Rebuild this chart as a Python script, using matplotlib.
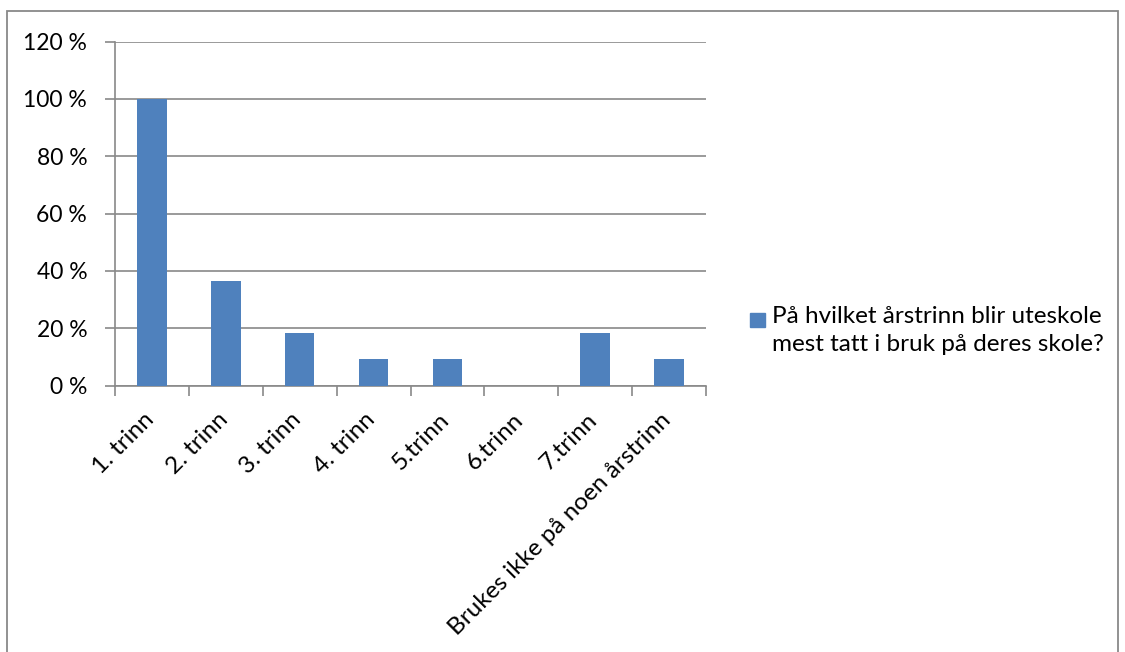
import matplotlib.pyplot as plt
from matplotlib.patches import Rectangle
import matplotlib.transforms as mtransforms
import numpy as np

plt.rcParams['font.family'] = ['Lato', 'DejaVu Sans']

categories = ['1. trinn', '2. trinn', '3. trinn', '4. trinn', '5.trinn', '6.trinn',
              '7.trinn', 'Brukes ikke på noen årstrinn']
values = [100, 36.36, 18.18, 9.09, 9.09, 0, 18.18, 9.09]
yticks = [0, 20, 40, 60, 80, 100, 120]
series_name = 'På hvilket årstrinn blir uteskole\nmest tatt i bruk på deres skole?'

bar_color = '#4F81BD'
line_color = '#898989'

W, H = 1125, 652
fig = plt.figure(figsize=(W / 100, H / 100), dpi=100)

# outer chart border (bottom edge falls outside the image)
fig.patches.append(Rectangle((7 / W, -0.05), (1118 - 7) / W, 1 - 11 / H + 0.05,
                             transform=fig.transFigure, fill=False,
                             edgecolor=line_color, linewidth=1.3))

ax = fig.add_axes([115 / W, 1 - 385.5 / H, (706 - 115) / W, (385.5 - 41.5) / H])
x = np.arange(len(categories))
ax.bar(x, values, width=0.4, color=bar_color, zorder=3)

ax.set_xlim(-0.5, len(categories) - 0.5)
ax.set_ylim(0, 120)
ax.set_yticks(yticks)
ax.set_yticklabels([f'{v} %' for v in yticks], fontsize=16.5)
ax.yaxis.grid(True, color=line_color, linewidth=1.2, zorder=0)

ax.set_xticks(np.arange(len(categories) + 1) - 0.5, minor=True)
ax.set_xticks(x)
ax.set_xticklabels(categories, rotation=45, ha='right', va='top',
                   rotation_mode='anchor', fontsize=17.5)
ax.tick_params(axis='x', which='major', length=0, pad=17)
ax.tick_params(axis='x', which='minor', length=7, color=line_color, width=1.2)
ax.tick_params(axis='y', length=7, color=line_color, width=1.2, pad=13)
shift = mtransforms.ScaledTranslation(-9 / 100, 0, fig.dpi_scale_trans)
for lbl in ax.get_xticklabels():
    lbl.set_transform(lbl.get_transform() + shift)

for s in ['top', 'right']:
    ax.spines[s].set_visible(False)
for s in ['left', 'bottom']:
    ax.spines[s].set_color(line_color)
    ax.spines[s].set_linewidth(1.2)

# legend: square aligned with first line of the series name
fig.patches.append(Rectangle((750 / W, 1 - 327 / H), 15 / W, 14 / H,
                             transform=fig.transFigure, color=bar_color))
fig.text(772 / W, 1 - 306 / H, series_name, va='top', ha='left',
         fontsize=17.5, linespacing=1.4)

fig.savefig('out.png', dpi=100)
